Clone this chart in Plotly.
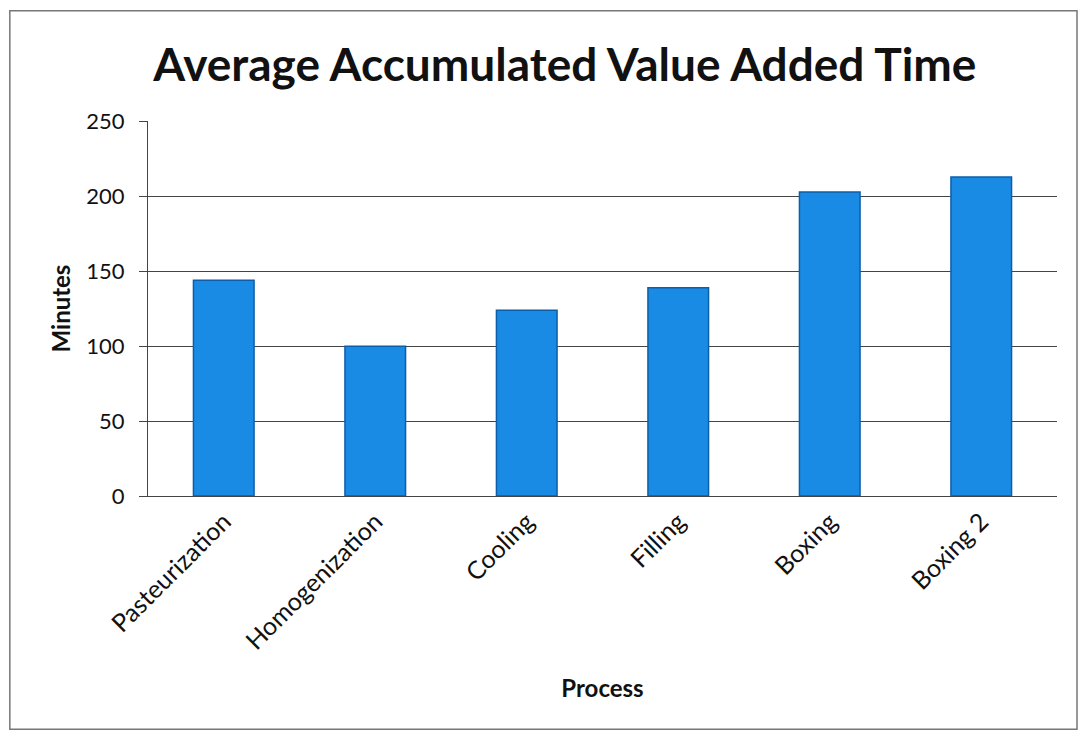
import plotly.graph_objects as go

# Process steps and their average accumulated value-added time (minutes)
processes = ["Pasteurization", "Homogenization", "Cooling", "Filling", "Boxing", "Boxing 2"]
minutes = [144, 100, 124, 139, 203, 213]
y_ticks = [0, 50, 100, 150, 200, 250]

FONT = "Lato"

fig = go.Figure()
fig.add_trace(go.Bar(
    x=processes,
    y=minutes,
    width=0.4,
    marker=dict(color="#1A8BE4", line=dict(color="#0D5EA8", width=1.5)),
    showlegend=False,
))

fig.update_layout(
    width=1082,
    height=735,
    margin=dict(l=148, r=25, t=121, b=239),
    paper_bgcolor="white",
    plot_bgcolor="white",
    font=dict(family=FONT, color="#111111"),
    title=dict(
        text="<b>Average Accumulated Value Added Time</b>",
        x=0.522, xanchor="center", xref="container",
        y=0.912, yanchor="middle", yref="container",
        font=dict(family=FONT, size=46, color="#111111"),
    ),
    xaxis=dict(
        title=dict(text="<b>Process</b>", font=dict(size=24), standoff=26),
        tickangle=-45,
        tickfont=dict(size=25),
        showline=True, linecolor="#444444", linewidth=1.3,
        showgrid=False,
        ticks="",
    ),
    yaxis=dict(
        title=dict(text="<b>Minutes</b>", font=dict(size=24), standoff=8),
        range=[0, 250.4],
        tickvals=y_ticks,
        tickfont=dict(size=22),
        ticklabelstandoff=10,
        showline=True, linecolor="#444444", linewidth=1.3,
        showgrid=True, gridcolor="#444444", gridwidth=1,
        zeroline=False,
        ticks="outside", ticklen=8, tickcolor="#444444",
    ),
    shapes=[dict(
        type="rect", xref="paper", yref="paper",
        x0=-0.152, x1=1.022, y0=-0.622, y1=1.294,
        line=dict(color="#777777", width=1.5),
        fillcolor="rgba(0,0,0,0)",
        layer="below",
    )],
)

fig.write_html("out.html")
